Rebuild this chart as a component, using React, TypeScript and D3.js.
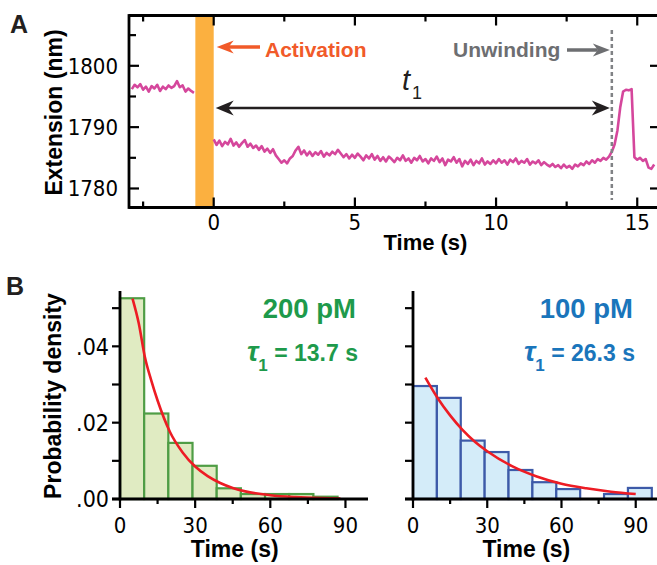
import React, { useEffect, useRef } from "react";
import * as d3 from "d3";

const W = 657;
const H = 565;

// ---- panel A: extension trace (nm), one sample every 0.1 s ----
const traceStep = 0.1;
const preStart = -2.9;
const preTrace = [
  1796.2, 1796.9, 1796.5, 1797.0, 1796.1, 1796.6, 1795.8, 1796.7, 1796.3, 1796.9,
  1795.9, 1796.6, 1796.2, 1796.8, 1796.4, 1796.7, 1797.5, 1796.5, 1796.8, 1795.8,
  1796.3, 1795.9, 1795.6,
];
const postStart = 0;
const postTrace = [
  1788.0, 1787.1, 1787.8, 1786.9, 1787.6, 1787.2, 1788.1, 1787.0, 1787.5, 1786.8,
  1787.4, 1787.9, 1786.8, 1787.3, 1786.6, 1787.0, 1786.3, 1786.9, 1786.0, 1786.5,
  1785.8, 1786.4, 1785.4, 1784.8, 1784.2, 1784.6, 1784.1, 1784.9, 1785.3, 1786.2,
  1786.8, 1785.6, 1786.2, 1785.4, 1786.0, 1785.3, 1785.9, 1785.5, 1786.1, 1785.2,
  1785.8, 1785.4, 1786.0, 1785.6, 1786.3, 1785.7, 1785.1, 1785.6, 1784.9, 1785.5,
  1785.0, 1785.7, 1785.2, 1784.6, 1785.4, 1784.9, 1785.6, 1784.7, 1785.3, 1784.5,
  1785.1, 1784.4, 1785.2, 1784.8, 1784.3, 1785.0, 1784.6, 1785.4, 1784.5, 1784.9,
  1784.2, 1785.0, 1784.6, 1785.3, 1784.4, 1784.8, 1784.1, 1784.9, 1784.5, 1785.2,
  1784.3, 1784.9, 1783.8, 1784.7, 1784.4, 1785.1, 1784.2, 1784.8, 1783.6, 1784.5,
  1784.0, 1784.7, 1783.8, 1784.5, 1784.1, 1784.9, 1783.9, 1784.4, 1784.0, 1784.6,
  1784.1, 1784.8, 1784.2, 1784.6, 1783.9, 1784.7, 1784.3, 1784.9, 1784.0, 1784.5,
  1784.2, 1784.8, 1783.9, 1784.4, 1784.1, 1784.6, 1783.8, 1784.3, 1783.9, 1783.6,
  1784.0, 1783.5, 1783.8, 1783.3, 1783.9, 1783.4, 1783.7, 1783.2, 1783.9, 1783.6,
  1784.1, 1783.8, 1784.4, 1784.0, 1784.6, 1784.2, 1784.8, 1784.5, 1785.0, 1784.7,
  1785.2, 1786.0, 1787.2, 1789.5, 1793.3, 1795.8, 1796.1, 1796.0, 1796.2, 1785.1,
  1784.7, 1785.0, 1784.5, 1784.8, 1783.4, 1783.2, 1783.9,
];
const activationWindow = [-0.65, 0];
const unwindingTime = 14.1;
const extTicks = [1780, 1790, 1800];
const extMinor = [1785, 1795, 1805];
const timeTicksA = [0, 5, 10, 15];
const timeMinorA = [-2.5, 2.5, 7.5, 12.5];

// ---- panel B: dwell-time histograms ----
const binEdges = [0, 9.65, 19.3, 28.95, 38.6, 48.25, 57.9, 67.55, 77.2, 86.85, 96.5];
const density200 = [0.0526, 0.0224, 0.0147, 0.0087, 0.0028, 0.0013, 0.0013, 0.0013, 0.0006, 0];
const density100 = [0.0296, 0.0265, 0.0153, 0.0123, 0.0076, 0.0044, 0.0026, 0, 0.0013, 0.0029];
const fit200: [number, number][] = [
  [5, 0.0525], [7.5, 0.046], [10, 0.037], [12.5, 0.031], [15, 0.0258], [20, 0.0175],
  [25, 0.0122], [30, 0.0085], [35, 0.006], [40, 0.0042], [45, 0.0029], [50, 0.002],
  [60, 0.001], [70, 0.0005], [80, 0.00022], [88, 0.0001],
];
const fit100: [number, number][] = [
  [5, 0.0318], [10, 0.0264], [15, 0.0219], [20, 0.0181], [25, 0.015], [30, 0.0125],
  [40, 0.0086], [50, 0.0059], [60, 0.004], [70, 0.0028], [80, 0.0019], [90, 0.0013],
];
const densityTicks = [0, 0.02, 0.04];
const densityMinor = [0.01, 0.03, 0.05];
const timeTicksB = [0, 30, 60, 90];
const timeMinorB = [15, 45, 75];

const SANS = "'Liberation Sans', Arial, Helvetica, sans-serif";
const NARROW = "'Liberation Sans Narrow', 'Arial Narrow', 'DejaVu Sans Condensed', sans-serif";

function arrowHead(g: any, x: number, y: number, dir: number, len: number, half: number, color: string) {
  // dir = 1 pointing right, -1 pointing left
  const p = d3.path();
  p.moveTo(x, y);
  p.lineTo(x - dir * len, y - half);
  p.lineTo(x - dir * len * 0.7, y);
  p.lineTo(x - dir * len, y + half);
  p.closePath();
  g.append("path").attr("d", p.toString()).attr("fill", color);
}

const App = () => {
  const svgRef = useRef<SVGSVGElement>(null);

  useEffect(() => {
    const svg = d3.select(svgRef.current);
    svg.selectAll("*").remove();

    // ================= Panel A =================
    const xA = d3.scaleLinear().domain([-3, 15.7]).range([129, 657]);
    const yA = d3.scaleLinear().domain([1776.9, 1808.2]).range([207.5, 15.5]);
    const gA = svg.append("g");
    const [top, bot] = yA.range().slice().reverse();

    gA.append("rect")
      .attr("x", xA(activationWindow[0]))
      .attr("y", top)
      .attr("width", xA(activationWindow[1]) - xA(activationWindow[0]))
      .attr("height", bot - top)
      .attr("fill", "#fbb040");

    const drawTrace = (vals: number[], start: number) => {
      gA.append("path")
        .attr("d", d3.line<number>()
          .x((_, i) => xA(start + i * traceStep))
          .y((d) => yA(d))(vals))
        .attr("fill", "none")
        .attr("stroke", "#d5479c")
        .attr("stroke-width", 2.6)
        .attr("stroke-linejoin", "round");
    };
    drawTrace(preTrace, preStart);
    drawTrace(postTrace, postStart);

    // unwinding marker
    gA.append("line")
      .attr("x1", xA(unwindingTime)).attr("x2", xA(unwindingTime))
      .attr("y1", 30).attr("y2", 200)
      .attr("stroke", "#808285").attr("stroke-width", 2.5)
      .attr("stroke-dasharray", "4 3");

    // frame
    const ax = gA.append("g").attr("stroke", "#000");
    ax.append("line").attr("x1", 129).attr("x2", 657).attr("y1", top).attr("y2", top).attr("stroke-width", 2.8);
    ax.append("line").attr("x1", 129).attr("x2", 657).attr("y1", bot).attr("y2", bot).attr("stroke-width", 2.8);
    ax.append("line").attr("x1", 129).attr("x2", 129).attr("y1", top - 1.4).attr("y2", bot + 1.4).attr("stroke-width", 2.8);
    extTicks.forEach((v) => {
      ax.append("line").attr("x1", 129).attr("x2", 139).attr("y1", yA(v)).attr("y2", yA(v)).attr("stroke-width", 2.2);
      ax.append("line").attr("x1", 650).attr("x2", 657).attr("y1", yA(v)).attr("y2", yA(v)).attr("stroke-width", 2.2);
    });
    extMinor.forEach((v) => {
      ax.append("line").attr("x1", 129).attr("x2", 136).attr("y1", yA(v)).attr("y2", yA(v)).attr("stroke-width", 2.2);
    });
    timeTicksA.forEach((v) => {
      ax.append("line").attr("x1", xA(v)).attr("x2", xA(v)).attr("y1", top).attr("y2", top + 10).attr("stroke-width", 2.2);
      ax.append("line").attr("x1", xA(v)).attr("x2", xA(v)).attr("y1", bot).attr("y2", bot - 10).attr("stroke-width", 2.2);
    });
    timeMinorA.forEach((v) => {
      ax.append("line").attr("x1", xA(v)).attr("x2", xA(v)).attr("y1", top).attr("y2", top + 6).attr("stroke-width", 2.2);
      ax.append("line").attr("x1", xA(v)).attr("x2", xA(v)).attr("y1", bot).attr("y2", bot - 6).attr("stroke-width", 2.2);
    });

    extTicks.forEach((v) => {
      gA.append("text").attr("x", 118).attr("y", yA(v)).attr("dy", "0.36em")
        .attr("text-anchor", "end").attr("font-family", NARROW).attr("font-size", 22)
        .text(v);
    });
    timeTicksA.forEach((v) => {
      gA.append("text").attr("x", xA(v)).attr("y", 230)
        .attr("text-anchor", "middle").attr("font-family", NARROW).attr("font-size", 22)
        .text(v);
    });

    gA.append("text")
      .attr("transform", `translate(62,${(top + bot) / 2 + 1}) rotate(-90)`)
      .attr("text-anchor", "middle").attr("font-family", SANS).attr("font-weight", 700)
      .attr("font-size", 23).text("Extension (nm)");
    gA.append("text").attr("x", xA(7.5)).attr("y", 250)
      .attr("text-anchor", "middle").attr("font-family", SANS).attr("font-weight", 700)
      .attr("font-size", 22).text("Time (s)");

    // annotations
    const orange = "#f15a29";
    gA.append("line").attr("x1", xA(0) + 14).attr("x2", 260).attr("y1", 47).attr("y2", 47)
      .attr("stroke", orange).attr("stroke-width", 3.5);
    arrowHead(gA, xA(0) + 3, 47, -1, 17, 6.5, orange);
    gA.append("text").attr("x", 265).attr("y", 57).attr("font-family", SANS)
      .attr("font-weight", 700).attr("font-size", 21).attr("fill", orange).text("Activation");

    const grey = "#6d6e71";
    gA.append("line").attr("x1", 567).attr("x2", xA(unwindingTime) - 14).attr("y1", 50).attr("y2", 50)
      .attr("stroke", grey).attr("stroke-width", 3.5);
    arrowHead(gA, xA(unwindingTime) - 2, 50, 1, 17, 6.5, grey);
    gA.append("text").attr("x", 453).attr("y", 57).attr("font-family", SANS)
      .attr("font-weight", 700).attr("font-size", 21).attr("fill", grey).text("Unwinding");

    const dark = "#231f20";
    gA.append("line").attr("x1", xA(0) + 12).attr("x2", xA(unwindingTime) - 14).attr("y1", 108).attr("y2", 108)
      .attr("stroke", dark).attr("stroke-width", 2.5);
    arrowHead(gA, xA(0) + 2, 108, -1, 18, 7.5, dark);
    arrowHead(gA, xA(unwindingTime) - 2, 108, 1, 18, 7.5, dark);
    const t1 = gA.append("text").attr("x", 402).attr("y", 90).attr("font-family", SANS).attr("fill", dark);
    t1.append("tspan").attr("font-style", "italic").attr("font-size", 29).text("t");
    t1.append("tspan").attr("font-size", 18).attr("dx", 2).attr("dy", 9).text("1");

    // ================= Panel B =================
    const yB = d3.scaleLinear().domain([0, 0.0545]).range([499, 291]);
    const fmt = (v: number) => d3.format(".2f")(v).replace(/^0/, "");

    const drawHist = (
      x0: number, x1: number, dens: number[], fit: [number, number][],
      fill: string, stroke: string, labelColor: string, conc: string, tau: string,
      yLabels: boolean, labelRight: number, tauRight: number,
    ) => {
      const g = svg.append("g");
      const xB = d3.scaleLinear().domain([0, 99]).range([x0, x1]);
      dens.forEach((d, i) => {
        if (d <= 0) return;
        g.append("rect")
          .attr("x", xB(binEdges[i])).attr("y", yB(d))
          .attr("width", xB(binEdges[i + 1]) - xB(binEdges[i]))
          .attr("height", yB(0) - yB(d))
          .attr("fill", fill).attr("stroke", stroke).attr("stroke-width", 2.2);
      });
      g.append("path")
        .attr("d", d3.line<[number, number]>().curve(d3.curveMonotoneX)
          .x((d) => xB(d[0])).y((d) => yB(d[1]))(fit))
        .attr("fill", "none").attr("stroke", "#ed1c24").attr("stroke-width", 2.6);

      const a = g.append("g").attr("stroke", "#000");
      a.append("line").attr("x1", x0).attr("x2", x0).attr("y1", 291).attr("y2", 500.4).attr("stroke-width", 2.8);
      a.append("line").attr("x1", x0 - 8).attr("x2", x1).attr("y1", 499).attr("y2", 499).attr("stroke-width", 2.8);
      [...densityTicks, ...densityMinor].forEach((v) => {
        a.append("line").attr("x1", x0 - 8).attr("x2", x0).attr("y1", yB(v)).attr("y2", yB(v)).attr("stroke-width", 2.2);
      });
      timeTicksB.forEach((v) => {
        a.append("line").attr("x1", xB(v)).attr("x2", xB(v)).attr("y1", 499).attr("y2", 508).attr("stroke-width", 2.2);
      });
      timeMinorB.forEach((v) => {
        a.append("line").attr("x1", xB(v)).attr("x2", xB(v)).attr("y1", 499).attr("y2", 504).attr("stroke-width", 2.2);
      });
      timeTicksB.forEach((v) => {
        g.append("text").attr("x", xB(v)).attr("y", 533).attr("text-anchor", "middle")
          .attr("font-family", NARROW).attr("font-size", 22).text(v);
      });
      if (yLabels) {
        densityTicks.forEach((v) => {
          g.append("text").attr("x", x0 - 11).attr("y", yB(v)).attr("dy", "0.36em")
            .attr("text-anchor", "end").attr("font-family", NARROW).attr("font-size", 23).text(fmt(v));
        });
      }
      g.append("text").attr("x", (xB(0) + xB(90)) / 2 + 2).attr("y", 557).attr("text-anchor", "middle")
        .attr("font-family", SANS).attr("font-weight", 700).attr("font-size", 23).text("Time (s)");

      g.append("text").attr("x", labelRight).attr("y", 318).attr("text-anchor", "end")
        .attr("font-family", SANS).attr("font-weight", 700).attr("font-size", 27.5)
        .attr("fill", labelColor).text(conc);
      const tt = g.append("text").attr("x", tauRight).attr("y", 361).attr("text-anchor", "end")
        .attr("font-family", SANS).attr("font-weight", 700).attr("font-size", 23).attr("fill", labelColor);
      tt.append("tspan").attr("font-style", "italic").attr("font-size", 28).text("τ");
      tt.append("tspan").attr("font-size", 17).attr("dy", 10).text("1");
      tt.append("tspan").attr("dy", -10).text(` = ${tau} s`);
    };

    drawHist(120, 368, density200, fit200, "#e0ebc2", "#4f9d45", "#1e9a4b", "200 pM", "13.7", true, 356, 358);
    drawHist(413, 658, density100, fit100, "#d4ecf9", "#3d5aa8", "#1a75bb", "100 pM", "26.3", false, 633, 635);

    svg.append("g").attr("transform", "translate(61,396) rotate(-90)")
      .append("text").attr("text-anchor", "middle").attr("font-family", SANS)
      .attr("font-weight", 700).attr("font-size", 23).text("Probability density");

    // panel letters
    svg.append("text").attr("x", 10).attr("y", 33).attr("font-family", SANS)
      .attr("font-weight", 700).attr("font-size", 25).attr("fill", "#231f20").text("A");
    svg.append("text").attr("x", 6).attr("y", 295).attr("font-family", SANS)
      .attr("font-weight", 700).attr("font-size", 25).attr("fill", "#231f20").text("B");
  }, []);

  return (
    <svg
      ref={svgRef}
      width={W}
      height={H}
      style={{ position: "absolute", left: 0, top: 0, background: "#fff" }}
    />
  );
};

export default App;
